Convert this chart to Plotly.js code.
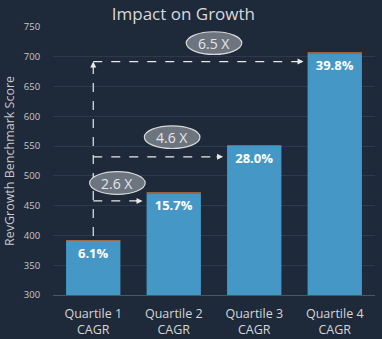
<!DOCTYPE html>
<html>
<head>
<meta charset="utf-8">
<script src="https://cdn.plot.ly/plotly-3.0.1.min.js"></script>
<style>html,body{margin:0;padding:0;background:#1e293a;}#chart{width:382px;height:339px;}</style>
</head>
<body>
<div id="chart"></div>
<script>
// ---- data ----
const categories = ['Quartile 1<br>CAGR', 'Quartile 2<br>CAGR', 'Quartile 3<br>CAGR', 'Quartile 4<br>CAGR'];
const scores = [391, 471, 550, 706];
const topCap = [1.5, 1.5, 1.5, 1.5];
const cagrLabels = ['6.1%', '15.7%', '28.0%', '39.8%'];
const multLabels = ['2.6 X', '4.6 X', '6.5 X'];
const multTarget = [1, 2, 3];          // category index the arrow points to
const multArrowY = [458, 532, 692];     // arrow level
const multLabelX = [0.3, 0.98, 1.5];    // ellipse centre (category units)
const multLabelY = [488, 565, 723];     // ellipse centre (score units)
const yTicks = [300, 350, 400, 450, 500, 550, 600, 650, 700, 750];

const barWidth = 0.675;
const shapes = [];
const annotations = [];
// vertical dashed line from Q1 up to top arrow
shapes.push({type:'line', xref:'x', yref:'y', x0:0, x1:0, y0:scores[0]+8, y1:multArrowY[2]-4,
  line:{color:'#e8e8e8', width:1.2, dash:'dash'}});
annotations.push({x:0, y:multArrowY[2], xref:'x', yref:'y', ax:0, ay:8, text:'', showarrow:true,
  arrowhead:2, arrowsize:1, arrowwidth:1.2, arrowcolor:'#e8e8e8'});
for (let i = 0; i < multLabels.length; i++) {
  const xEnd = multTarget[i] - barWidth/2 - 0.05;
  shapes.push({type:'line', xref:'x', yref:'y', x0:0, x1:xEnd - 0.04, y0:multArrowY[i], y1:multArrowY[i],
    line:{color:'#e8e8e8', width:1.2, dash:'dash'}});
  annotations.push({x:xEnd, y:multArrowY[i], xref:'x', yref:'y', ax:-8, ay:0, text:'', showarrow:true,
    arrowhead:2, arrowsize:1, arrowwidth:1.2, arrowcolor:'#e8e8e8'});
  shapes.push({type:'circle', xref:'x', yref:'y',
    x0:multLabelX[i]-0.345, x1:multLabelX[i]+0.345, y0:multLabelY[i]-19, y1:multLabelY[i]+19,
    fillcolor:'#6c7480', line:{color:'#d8d8d8', width:1.2}});
  annotations.push({x:multLabelX[i], y:multLabelY[i], xref:'x', yref:'y', text:multLabels[i], showarrow:false,
    font:{family:'Open Sans', size:14, color:'#e6e6e6'}});
}

const traces = [
  {type:'bar', x:categories, y:scores.map(v => v - 300), base:300, marker:{color:'#4598c6'},
   text:cagrLabels, textposition:'inside', insidetextanchor:'end',
   textfont:{family:'Open Sans', size:13, color:'#ffffff', weight:'bold'}, hoverinfo:'none'},
  {type:'bar', x:categories, y:topCap, base:scores, marker:{color:'#c8743a'}, hoverinfo:'none'}
];

const layout = {
  width:382, height:339,
  paper_bgcolor:'#1e293a', plot_bgcolor:'#1e293a',
  margin:{l:53, r:7, t:27, b:44},
  showlegend:false,
  barmode:'overlay',
  bargap:0.325,
  title:{text:'Impact on Growth', x:0.48, xanchor:'center', y:0.96, yanchor:'middle',
    font:{family:'Open Sans', size:17, color:'#d9d9d9'}},
  xaxis:{type:'category', tickfont:{family:'Open Sans', size:12.5, color:'#d6d6d6'},
    showgrid:false, zeroline:false, showline:true, linecolor:'#4a5566', linewidth:1,
    ticks:'outside', ticklen:7, tickcolor:'rgba(0,0,0,0)'},
  yaxis:{range:[300, 750], tickvals:yTicks, tickfont:{family:'Open Sans', size:9.5, color:'#c8c8c8'},
    gridcolor:'#2e3a4c', gridwidth:1, zeroline:false, showline:false,
    ticks:'outside', ticklen:10, tickcolor:'rgba(0,0,0,0)',
    title:{text:'RevGrowth Benchmark Score', font:{family:'Open Sans', size:12.5, color:'#c8c8c8'}, standoff:6}},
  shapes:shapes,
  annotations:annotations
};

Plotly.newPlot('chart', traces, layout, {displayModeBar:false, staticPlot:true});
</script>
</body>
</html>
